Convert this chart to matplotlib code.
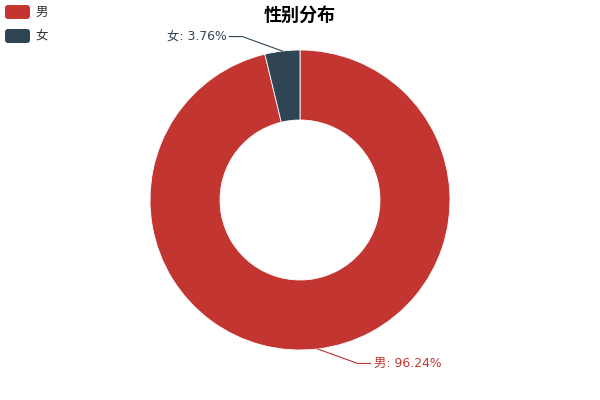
import numpy as np
import matplotlib
matplotlib.use('Agg')
import matplotlib.pyplot as plt
from matplotlib.patches import FancyBboxPatch

plt.rcParams['font.family'] = ['Noto Sans CJK SC', 'DejaVu Sans']

title = '性别分布'
labels = ['男', '女']
values = [96.24, 3.76]
colors = ['#c23531', '#2f4554']

W, H = 600, 400
cx, cy = 300, 200
r_out, r_in = 150, 80

fig = plt.figure(figsize=(W / 100, H / 100), dpi=100)
ax = fig.add_axes([0, 0, 1, 1])

# pixel coords (origin top-left) -> data coords
def py(y):
    return H - y

wedges, _ = ax.pie(values, colors=colors, startangle=90, counterclock=False,
                   center=(cx, py(cy)), radius=r_out,
                   wedgeprops=dict(width=r_out - r_in, edgecolor='white', linewidth=0.6),
                   frame=True)
ax.set_xlim(0, W)
ax.set_ylim(0, H)
ax.set_aspect('equal')
ax.axis('off')

# label lines
for w, lab, val, col in zip(wedges, labels, values, colors):
    mid = np.deg2rad((w.theta1 + w.theta2) / 2)
    x0 = cx + r_out * np.cos(mid)
    y0 = py(cy) + r_out * np.sin(mid)
    side = 1 if np.cos(mid) >= 0 else -1
    vdir = 1 if np.sin(mid) >= 0 else -1
    x1 = x0 + side * 40
    y1 = y0 + vdir * 14.5
    x2 = x1 + side * 13
    ax.plot([x0, x1, x2], [y0, y1, y1], color=col, lw=0.8)
    ax.text(x2 + side * 3, y1, f'{lab}: {val:.2f}%', color=col, fontsize=8.9,
            family=['DejaVu Sans', 'Noto Sans CJK SC'],
            ha='left' if side > 0 else 'right', va='center')

ax.text(cx, py(15), title, ha='center', va='center', fontsize=13, fontweight='bold',
        color='#000000')

# legend
for i, (lab, col) in enumerate(zip(labels, colors)):
    ytop = 5 + i * 24
    box = FancyBboxPatch((5, py(ytop + 14)), 25, 14,
                         boxstyle='round,pad=0,rounding_size=3',
                         facecolor=col, edgecolor='none')
    ax.add_patch(box)
    ax.text(35, py(ytop + 7), lab, ha='left', va='center', fontsize=9, color='#333333')

fig.savefig('out.png', dpi=100)
